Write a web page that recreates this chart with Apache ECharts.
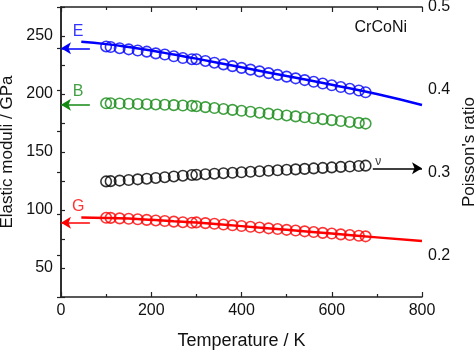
<!DOCTYPE html>
<html>
<head>
<meta charset="utf-8">
<script src="https://cdn.jsdelivr.net/npm/echarts@6/dist/echarts.min.js"></script>
<style>
  html, body { margin: 0; padding: 0; background: #fff; }
  #chart { width: 474px; height: 351px; }
</style>
</head>
<body>
<div id="chart"></div>
<script>
// temperatures (K)
const tLow = [100, 110, 130, 150, 170, 190, 210, 230, 250, 270, 290];
const tHigh = [300, 320, 340, 360, 380, 400, 420, 440, 460, 480, 500, 520, 540, 560, 580, 600, 620, 640, 660, 675];
const tFit = [45, 100, 150, 200, 250, 300, 400, 500, 600, 700, 800];

// elastic moduli (GPa)
const eLow = [241, 240.5, 239.5, 238.5, 237.5, 236.5, 235, 234, 232.5, 231, 230];
const eHigh = [230, 228.5, 227, 225.5, 224, 222.5, 221, 219.5, 218, 216.5, 215, 213.5, 212, 210.5, 209, 207.5, 206, 204.5, 203, 201.5];
const bLow = [192, 192, 191.8, 191.6, 191.4, 191.2, 191, 190.7, 190.4, 190.1, 189.8];
const bHigh = [189.5, 188.7, 187.9, 187.1, 186.3, 185.5, 184.7, 183.9, 183.1, 182.3, 181.5, 180.7, 179.9, 179.1, 178.3, 177.5, 176.7, 175.9, 175.1, 174.5];
const gLow = [93.3, 93.2, 92.8, 92.4, 92, 91.5, 91, 90.5, 90, 89.5, 89];
const gHigh = [89.3, 88.7, 88.1, 87.5, 86.8, 86.2, 85.5, 84.9, 84.2, 83.6, 82.9, 82.3, 81.6, 81, 80.3, 79.7, 79, 78.4, 77.8, 77.3];
const eFit = [245, 243, 240.5, 237.5, 234, 230.5, 223, 215.5, 208, 200, 190.5];
const gFit = [93.5, 93.2, 92.6, 91.6, 90.4, 89.2, 86.1, 82.9, 79.7, 76.4, 73.2];

// Poisson's ratio
const nuLow = [0.2895, 0.2898, 0.2905, 0.2912, 0.292, 0.2928, 0.2937, 0.2946, 0.2955, 0.2964, 0.2973];
const nuHigh = [0.2976, 0.2982, 0.2988, 0.2994, 0.2999, 0.3005, 0.3011, 0.3017, 0.3023, 0.3029, 0.3035, 0.304, 0.3046, 0.3052, 0.3058, 0.3064, 0.307, 0.3075, 0.3081, 0.3085];

// arrows pointing at the axes: [from T, to T, value]
const arrowE = [64, 0, 239.4];
const arrowB = [64, 0, 190.7];
const arrowG = [64, 0, 89];
const arrowNu = [691, 800, 0.3053];

const FONT = 'Liberation Sans, Arial, sans-serif';
const BLUE = '#0000ff', GREEN = '#138a13', RED = '#ff0000', BLACK = '#000000';

const chart = echarts.init(document.getElementById('chart'));

function pairs(xs, ys) {
  return xs.map((x, i) => [x, ys[i]]);
}

function circles(name, xs, ys, color, yIdx) {
  return {
    name: name,
    type: 'scatter',
    yAxisIndex: yIdx || 0,
    data: pairs(xs, ys),
    symbol: 'circle',
    symbolSize: 10.5,
    itemStyle: { color: 'rgba(0,0,0,0)', borderColor: color, borderWidth: 1.6 },
    z: 3
  };
}

function fitLine(ys, color) {
  return {
    type: 'line',
    data: pairs(tFit, ys),
    symbol: 'none',
    smooth: true,
    lineStyle: { color: color, width: 2.5 },
    z: 4
  };
}

function arrow(a, color, yIdx) {
  return {
    type: 'line',
    yAxisIndex: yIdx || 0,
    data: [],
    markLine: {
      silent: true,
      symbol: ['none', 'arrow'],
      symbolSize: [9, 10],
      label: { show: false },
      lineStyle: { color: color, width: 1.5, type: 'solid' },
      data: [[{ coord: [a[0], a[2]] }, { coord: [a[1], a[2]] }]]
    }
  };
}

function tag(text, x, y, color, size, yIdx) {
  return {
    type: 'scatter',
    yAxisIndex: yIdx || 0,
    data: [[x, y]],
    symbolSize: 1,
    itemStyle: { color: 'rgba(0,0,0,0)' },
    label: {
      show: true, position: 'inside', formatter: text,
      color: color, fontSize: size, fontFamily: FONT
    },
    z: 5
  };
}

const axisLine = { show: true, lineStyle: { color: '#222', width: 1.5 } };

const option = {
  animation: false,
  backgroundColor: '#fff',
  grid: { left: 61, right: 52, top: 7, bottom: 54, containLabel: false, outerBoundsMode: 'none' },
  xAxis: [
    {
      type: 'value', position: 'bottom', min: 0, max: 800, interval: 200,
      name: 'Temperature / K', nameLocation: 'middle', nameGap: 35,
      nameTextStyle: { fontSize: 18, fontFamily: FONT, color: '#111' },
      axisLine: axisLine,
      axisTick: { inside: true, length: 5, lineStyle: { color: '#222', width: 1.2 } },
      minorTick: { show: true, splitNumber: 2, length: 3, lineStyle: { color: '#222', width: 1.2 } },
      axisLabel: { fontSize: 16, fontFamily: FONT, color: '#111', margin: 6 },
      splitLine: { show: false }
    },
    {
      type: 'value', position: 'top', min: 0, max: 800, interval: 200,
      axisLine: axisLine,
      axisTick: { inside: true, length: 5, lineStyle: { color: '#222', width: 1.2 } },
      minorTick: { show: true, splitNumber: 2, length: 3, lineStyle: { color: '#222', width: 1.2 } },
      axisLabel: { show: false },
      splitLine: { show: false }
    }
  ],
  yAxis: [
    {
      type: 'value', position: 'left', min: 25, max: 275, interval: 25,
      name: 'Elastic moduli / GPa', nameLocation: 'middle', nameGap: 42,
      nameTextStyle: { fontSize: 17, fontFamily: FONT, color: '#111' },
      axisLine: axisLine,
      axisTick: { inside: true, length: 4, lineStyle: { color: '#222', width: 1.2 } },
      axisLabel: {
        fontSize: 16, fontFamily: FONT, color: '#111', margin: 8,
        formatter: v => (v % 50 === 0 ? String(v) : '')
      },
      splitLine: { show: false }
    },
    {
      type: 'value', position: 'right', min: 0.15, max: 0.5, interval: 0.05,
      name: "Poisson's ratio", nameLocation: 'middle', nameGap: 34, nameRotate: 90,
      nameTextStyle: { fontSize: 17, fontFamily: FONT, color: '#111' },
      axisLine: axisLine,
      axisTick: { inside: true, length: 4, lineStyle: { color: '#222', width: 1.2 } },
      axisLabel: {
        fontSize: 16, fontFamily: FONT, color: '#111', margin: 6,
        formatter: v => {
          const r = Math.round(v * 10);
          return Math.abs(v * 10 - r) < 1e-6 ? (r / 10).toFixed(1) : '';
        }
      },
      splitLine: { show: false }
    }
  ],
  graphic: [
    {
      type: 'text', right: 67, top: 20,
      style: { text: 'CrCoNi', fontSize: 16, fontFamily: FONT, fill: '#111' }
    }
  ],
  series: [
    fitLine(eFit, BLUE),
    fitLine(gFit, RED),
    circles('E low', tLow, eLow, BLUE),
    circles('E high', tHigh, eHigh, BLUE),
    circles('B low', tLow, bLow, GREEN),
    circles('B high', tHigh, bHigh, GREEN),
    circles('G low', tLow, gLow, RED),
    circles('G high', tHigh, gHigh, RED),
    circles('nu low', tLow, nuLow, BLACK, 1),
    circles('nu high', tHigh, nuHigh, BLACK, 1),
    arrow(arrowE, BLUE),
    arrow(arrowB, GREEN),
    arrow(arrowG, RED),
    arrow(arrowNu, BLACK, 1),
    tag('E', 38, 253.5, BLUE, 16),
    tag('B', 38, 202, GREEN, 16),
    tag('G', 38, 103.3, RED, 16),
    tag('ν', 703, 0.3135, BLACK, 12, 1)
  ]
};

chart.setOption(option);
</script>
</body>
</html>
